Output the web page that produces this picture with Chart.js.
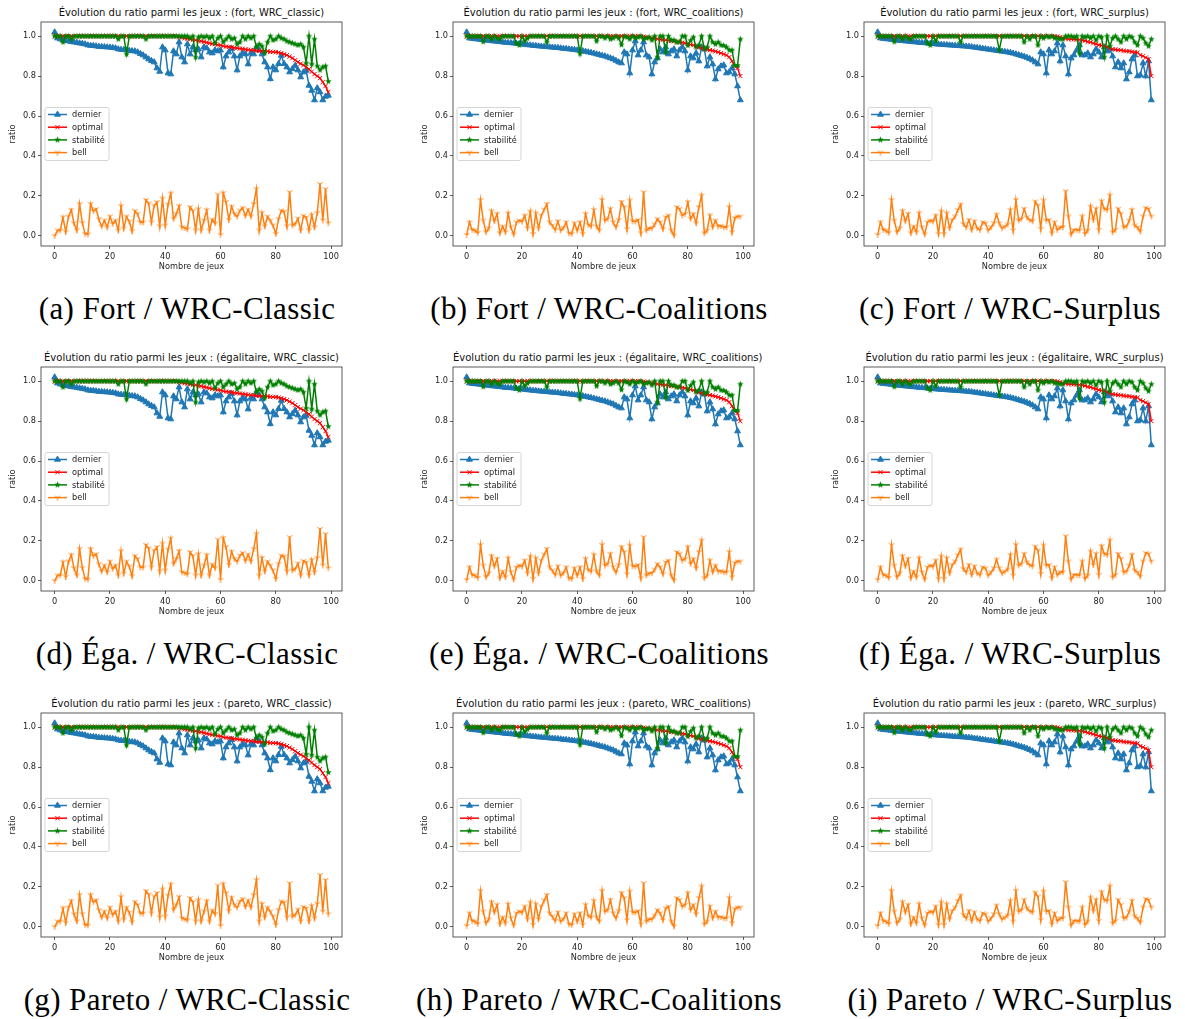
<!DOCTYPE html>
<html><head><meta charset="utf-8">
<script src="https://cdn.jsdelivr.net/npm/chart.js@4.4.1/dist/chart.umd.min.js"></script>
<style>
body{margin:0;background:#fff;width:1185px;height:1019px;position:relative;overflow:hidden}
.title{position:absolute;font-family:'DejaVu Sans';font-size:10px;line-height:12px;color:#111;text-align:center;white-space:nowrap}
.cap{position:absolute;width:420px;text-align:center;font-family:'Liberation Serif';font-size:31px;letter-spacing:0.4px;line-height:30px;color:#000;white-space:nowrap}
canvas{position:absolute}
</style></head><body>
<script>
// values (the three rows use the same runs)
const classicDernier = [1.02,0.99,0.985,0.98,0.978,0.975,0.972,0.97,0.968,0.965,
  0.963,0.96,0.955,0.953,0.952,0.95,0.948,0.947,0.946,0.945,
  0.944,0.942,0.94,0.935,0.933,0.932,0.93,0.928,0.926,0.925,
  0.92,0.912,0.905,0.895,0.885,0.877,0.87,0.84,0.823,0.945,
  0.93,0.815,0.81,0.925,0.91,0.97,0.895,0.87,0.96,0.91,
  0.945,0.93,0.935,0.895,0.945,0.94,0.92,0.915,0.93,0.925,
  0.93,0.845,0.9,0.92,0.937,0.9,0.83,0.9,0.915,0.91,
  0.86,0.915,0.91,0.945,0.93,0.91,0.87,0.845,0.786,0.845,
  0.83,0.862,0.903,0.862,0.845,0.82,0.836,0.853,0.83,0.795,
  0.82,0.828,0.753,0.728,0.68,0.74,0.72,0.68,0.698,0.703];
const classicOptimal = [1,1,1,1,1,1,1,1,1,1, 1,1,1,1,1,1,1,1,1,1,
  1,1,1,1,1,1,1,1,1,1, 1,1,1,1,1,1,1,1,1,1,
  1,1,1,1,1,0.995,0.993,0.99,0.988,0.985,
  0.982,0.98,0.977,0.975,0.972,0.968,0.965,0.962,0.96,0.957,
  0.955,0.95,0.948,0.946,0.944,0.942,0.94,0.938,0.936,0.934,
  0.932,0.931,0.93,0.928,0.927,0.926,0.925,0.924,0.922,0.921,
  0.92,0.918,0.915,0.91,0.905,0.898,0.89,0.88,0.87,0.862,
  0.855,0.845,0.835,0.822,0.81,0.8,0.79,0.77,0.75,0.72];
const classicStabilite = [1,1,1,0.97,1,1,0.985,1,1,1,
  1,1,1,1,1,1,1,1,1,1,
  1,1,1,0.985,1,1,0.91,1,1,1,
  1,1,1,0.985,1,1,1,1,1,1,
  1,1,1,1,1,1,1,1,1,0.99,
  1,0.895,0.995,1,0.995,1,0.99,1,0.965,0.99,
  1,0.97,0.985,1,0.985,0.99,0.96,0.97,1,0.985,
  1,0.99,1,0.945,0.96,0.95,0.915,0.97,1,0.98,
  0.985,1,0.99,0.985,0.975,0.97,0.965,0.96,0.955,0.96,
  0.945,0.865,1,0.86,0.985,0.85,0.83,0.845,0.85,0.773];
const classicBell = [0.0,0.027,0.027,0.093,0.02,0.097,0.13,0.063,0.027,0.16,
  0.065,0.01,0.007,0.16,0.124,0.134,0.083,0.047,0.077,0.042,
  0.097,0.06,0.077,0.027,0.149,0.037,0.097,0.072,0.023,0.125,
  0.11,0.068,0.067,0.18,0.163,0.068,0.152,0.169,0.048,0.187,
  0.052,0.157,0.212,0.085,0.11,0.149,0.043,0.04,0.033,0.144,
  0.125,0.027,0.134,0.027,0.077,0.129,0.027,0.082,0.063,0.207,
  0.005,0.214,0.169,0.08,0.147,0.11,0.097,0.127,0.14,0.1,
  0.132,0.097,0.16,0.235,0.027,0.115,0.047,0.097,0.077,0.052,
  0.01,0.085,0.127,0.122,0.047,0.219,0.052,0.06,0.087,0.027,
  0.1,0.093,0.027,0.105,0.043,0.115,0.26,0.077,0.235,0.063];

const coalDernier = [1.02,0.99,0.988,0.986,0.985,0.983,0.981,0.98,0.978,0.976,
  0.975,0.973,0.972,0.97,0.968,0.967,0.966,0.965,0.963,0.962,
  0.96,0.958,0.956,0.955,0.953,0.952,0.95,0.949,0.948,0.947,
  0.945,0.944,0.943,0.942,0.94,0.938,0.937,0.935,0.934,0.932,
  0.93,0.928,0.926,0.923,0.92,0.917,0.914,0.91,0.907,0.903,
  0.9,0.895,0.89,0.885,0.878,0.87,0.865,0.92,0.91,0.815,
  0.93,0.975,0.905,0.93,0.97,0.905,0.895,0.81,0.87,0.89,
  0.935,0.92,0.945,0.91,0.925,0.935,0.9,0.93,0.945,0.925,
  0.83,0.9,0.89,0.915,0.875,0.945,0.935,0.85,0.895,0.86,
  0.785,0.835,0.85,0.855,0.815,0.82,0.84,0.81,0.75,0.68];
const coalOptimal = [1,1,1,1,1,1,1,1,1,1, 1,1,1,1,1,1,1,1,1,1,
  1,1,1,1,1,1,1,1,1,1, 1,1,1,1,1,1,1,1,1,1,
  1,1,1,1,1,1,1,1,1,1, 1,1,1,1,1,1,1,1,1,1,
  1,1,1,0.999,0.998,0.995,0.992,0.99,0.988,0.986,
  0.984,0.982,0.98,0.978,0.976,0.974,0.972,0.97,0.968,0.965,
  0.962,0.958,0.955,0.95,0.945,0.94,0.937,0.934,0.93,0.927,
  0.924,0.92,0.915,0.91,0.905,0.895,0.875,0.85,0.84,0.8];
const coalStabilite = [1,1,1,1,1,1,0.972,1,1,0.985,
  1,0.99,0.985,1,1,1,1,1,0.965,0.955,
  1,0.975,0.99,1,1,1,1,1,1,0.97,
  1,1,1,1,1,1,1,1,1,1,
  1,0.912,1,1,1,1,1,0.975,1,1,
  0.99,1,0.985,0.99,1,0.99,0.957,1,0.995,0.985,
  1,0.99,0.995,1,0.985,0.99,0.995,0.98,1,0.895,
  1,1,0.92,1,0.98,0.98,0.97,0.97,1,1,
  0.953,0.978,0.995,0.945,0.955,1,0.937,0.945,1,0.97,
  0.96,0.97,0.955,0.953,0.945,0.93,0.93,0.853,0.853,0.985];
const coalBell = [0.005,0.068,0.03,0.027,0.015,0.18,0.077,0.018,0.038,0.124,
  0.073,0.11,0.013,0.047,0.018,0.113,0.043,0.007,0.068,0.077,
  0.072,0.102,0.038,0.122,0.01,0.113,0.038,0.102,0.132,0.16,
  0.068,0.052,0.03,0.073,0.027,0.04,0.068,0.013,0.01,0.063,
  0.027,0.068,0.01,0.11,0.055,0.047,0.13,0.047,0.027,0.18,
  0.077,0.085,0.135,0.068,0.043,0.08,0.17,0.144,0.033,0.177,
  0.073,0.072,0.08,0.013,0.219,0.027,0.038,0.038,0.057,0.085,
  0.068,0.033,0.093,0.102,0.027,0.002,0.144,0.135,0.102,0.11,
  0.169,0.085,0.11,0.063,0.144,0.202,0.013,0.027,0.102,0.043,
  0.077,0.047,0.05,0.043,0.043,0.144,0.018,0.09,0.097,0.097];

const surplusDernier = [1.02,0.99,0.988,0.986,0.985,0.983,0.981,0.98,0.978,0.977,
  0.975,0.974,0.972,0.971,0.97,0.968,0.967,0.966,0.965,0.963,
  0.962,0.96,0.959,0.958,0.957,0.956,0.955,0.954,0.953,0.952,
  0.951,0.95,0.949,0.948,0.946,0.944,0.942,0.94,0.938,0.936,
  0.934,0.932,0.93,0.928,0.926,0.924,0.922,0.92,0.917,0.914,
  0.91,0.906,0.902,0.898,0.893,0.887,0.88,0.87,0.86,0.92,
  0.91,0.815,0.93,0.91,0.925,0.965,0.875,0.955,0.9,0.81,
  0.89,0.905,0.93,0.955,0.905,0.905,0.915,0.895,0.91,0.935,
  0.92,0.895,0.945,0.925,0.935,0.9,0.845,0.87,0.84,0.865,
  0.785,0.82,0.885,0.905,0.8,0.805,0.865,0.8,0.875,0.68];
const surplusOptimal = [1,1,1,1,1,1,1,1,1,1, 1,1,1,1,1,1,1,1,1,1,
  1,1,1,1,1,1,1,1,1,1, 1,1,1,1,1,1,1,1,1,1,
  1,1,1,1,1,1,1,1,1,1, 1,1,1,1,1,1,1,1,1,1,
  1,1,1,1,1,0.998,0.995,0.99,0.988,0.986,
  0.985,0.984,0.983,0.982,0.98,0.977,0.972,0.97,0.965,0.962,
  0.955,0.953,0.95,0.946,0.942,0.935,0.933,0.931,0.929,0.927,
  0.925,0.924,0.922,0.92,0.918,0.905,0.9,0.893,0.885,0.8];
const surplusStabilite = [1,1,1,1,1,1,0.972,1,1,0.985,
  1,0.99,0.985,1,1,1,1,1,0.965,0.955,
  1,0.975,1,1,1,1,1,1,1,1,
  0.97,1,1,1,1,1,1,1,1,1,
  1,1,1,1,0.93,1,1,1,1,1,
  1,1,1,0.97,1,0.985,1,1,0.955,1,
  0.99,1,0.995,1,0.99,0.99,0.985,0.985,1,1,
  1,0.995,1,0.915,1,0.995,1,0.99,1,0.98,
  1,0.995,0.895,1,0.95,0.99,1,0.985,0.97,1,
  0.985,1,0.995,0.97,0.955,1,0.99,0.965,0.95,0.985];
const surplusBell = [0.005,0.068,0.03,0.027,0.015,0.18,0.077,0.018,0.038,0.124,
  0.073,0.11,0.013,0.047,0.018,0.113,0.043,0.007,0.068,0.077,
  0.072,0.102,0.01,0.122,0.01,0.113,0.038,0.08,0.097,0.13,
  0.157,0.06,0.043,0.08,0.03,0.073,0.038,0.03,0.068,0.063,
  0.027,0.043,0.063,0.107,0.063,0.038,0.047,0.057,0.13,0.027,
  0.18,0.077,0.085,0.135,0.093,0.08,0.073,0.172,0.152,0.035,
  0.177,0.077,0.08,0.013,0.068,0.03,0.043,0.043,0.224,0.097,
  0.007,0.03,0.03,0.027,0.097,0.01,0.027,0.147,0.08,0.135,
  0.03,0.174,0.135,0.13,0.202,0.018,0.03,0.135,0.11,0.043,
  0.047,0.077,0.13,0.052,0.043,0.022,0.097,0.14,0.135,0.097];

const rowKeys = ["fort", "égalitaire", "pareto"];
const rowCaps = ["Fort", "Éga.", "Pareto"];
const colKeys = ["WRC_classic", "WRC_coalitions", "WRC_surplus"];
const colCaps = ["WRC-Classic", "WRC-Coalitions", "WRC-Surplus"];
const letters = ["a","b","c","d","e","f","g","h","i"];
const seriesNames = ["dernier", "optimal", "stabilité", "bell"];
const xTicks = [0, 20, 40, 60, 80, 100];
const yTicks = [0, 0.2, 0.4, 0.6, 0.8, 1.0];
const columns = [
  [classicDernier, classicOptimal, classicStabilite, classicBell],
  [coalDernier, coalOptimal, coalStabilite, coalBell],
  [surplusDernier, surplusOptimal, surplusStabilite, surplusBell]
];

const colX = [0, 412, 823];
const rowY = [0, 345, 691];
const colors = ["#1f77b4", "#ff0000", "#008000", "#ff7f0e"];
const tickFont = {family: "DejaVu Sans", size: 8.2};

// matplotlib-like markers that Chart.js lacks
function starImage(color, r){
  const c = document.createElement("canvas");
  const s = Math.ceil(2*r + 2);
  c.width = c.height = s;
  const g = c.getContext("2d");
  g.fillStyle = color;
  g.beginPath();
  for(let k=0;k<10;k++){
    const rr = k%2 ? r*0.42 : r;
    const a = -Math.PI/2 + k*Math.PI/5;
    const px = s/2 + rr*Math.cos(a), py = s/2 + rr*Math.sin(a);
    if(k) g.lineTo(px,py); else g.moveTo(px,py);
  }
  g.closePath(); g.fill();
  return c;
}
function triDownImage(color, r){
  const c = document.createElement("canvas");
  const s = Math.ceil(2*r + 2);
  c.width = c.height = s;
  const g = c.getContext("2d");
  g.strokeStyle = color; g.lineWidth = 1;
  const m = s/2;
  g.beginPath();
  g.moveTo(m,m); g.lineTo(m, m+r);
  g.moveTo(m,m); g.lineTo(m-0.866*r, m-0.5*r);
  g.moveTo(m,m); g.lineTo(m+0.866*r, m-0.5*r);
  g.stroke();
  return c;
}
const markers = [
  {pointStyle: "triangle", pointRadius: 3.4},
  {pointStyle: "crossRot", pointRadius: 3},
  {pointStyle: starImage(colors[2], 3.4), pointRadius: 3},
  {pointStyle: triDownImage(colors[3], 3), pointRadius: 3}
];

const framePlugin = {
  id: "frameLegend",
  afterDraw(chart){
    const {ctx, chartArea: a} = chart;
    ctx.save();
    ctx.strokeStyle = "#333"; ctx.lineWidth = 0.8;
    ctx.strokeRect(a.left, a.top, a.right - a.left, a.bottom - a.top);
    // legend, center left like matplotlib "best"
    const bw = 64, bh = 53, bx = a.left + 4, by = (a.top + a.bottom)/2 - bh/2;
    ctx.fillStyle = "rgba(255,255,255,0.8)";
    ctx.strokeStyle = "#cccccc";
    ctx.beginPath();
    if(ctx.roundRect) ctx.roundRect(bx, by, bw, bh, 2); else ctx.rect(bx, by, bw, bh);
    ctx.fill(); ctx.stroke();
    chart.data.datasets.forEach((ds, k) => {
      const y = by + 7 + k*12.7;
      ctx.strokeStyle = ds.borderColor; ctx.lineWidth = ds.borderWidth;
      ctx.beginPath(); ctx.moveTo(bx + 3, y); ctx.lineTo(bx + 22, y); ctx.stroke();
      ctx.fillStyle = ds.pointBackgroundColor; ctx.strokeStyle = ds.pointBorderColor; ctx.lineWidth = 1;
      Chart.helpers.drawPoint(ctx, {pointStyle: ds.pointStyle, radius: ds.pointRadius, rotation: 0, borderWidth: 1}, bx + 12.5, y);
      ctx.fillStyle = "#222";
      ctx.font = "8.2px 'DejaVu Sans'";
      ctx.textBaseline = "middle";
      ctx.fillText(ds.label, bx + 27, y + 0.5);
    });
    ctx.restore();
  }
};

function makePanel(r, c){
  const ox = colX[c], oy = rowY[r];
  const t = document.createElement("div");
  t.className = "title";
  t.style.left = (ox + 41) + "px"; t.style.width = "301px"; t.style.top = (oy + 7) + "px";
  t.textContent = "Évolution du ratio parmi les jeux : (" + rowKeys[r] + ", " + colKeys[c] + ")";
  document.body.appendChild(t);

  const cv = document.createElement("canvas");
  cv.width = 350; cv.height = 280;
  cv.style.left = ox + "px"; cv.style.top = oy + "px";
  document.body.appendChild(cv);

  const cap = document.createElement("div");
  cap.className = "cap";
  cap.style.left = (ox + 187 - 210) + "px"; cap.style.top = (oy + 294) + "px";
  cap.textContent = "(" + letters[r*3 + c] + ") " + rowCaps[r] + " / " + colCaps[c];
  document.body.appendChild(cap);

  const datasets = columns[c].map((vals, k) => ({
    label: seriesNames[k],
    data: vals.map((v, i) => ({x: i, y: v})),
    borderColor: colors[k],
    backgroundColor: colors[k],
    pointBackgroundColor: colors[k],
    pointBorderColor: colors[k],
    pointBorderWidth: 1,
    borderWidth: 1.5,
    pointStyle: markers[k].pointStyle,
    pointRadius: markers[k].pointRadius,
    tension: 0,
    order: 4 - k
  }));

  new Chart(cv, {
    type: "line",
    data: {datasets},
    plugins: [framePlugin],
    options: {
      responsive: false, animation: false, devicePixelRatio: 1,
      layout: {padding: {top: 22, right: 8, left: 0, bottom: 0}},
      plugins: {legend: {display: false}, tooltip: {enabled: false}},
      scales: {
        x: {
          type: "linear", min: -4.95, max: 103.95,
          afterBuildTicks: s => { s.ticks = xTicks.map(v => ({value: v})); },
          afterFit: s => { s.height = 34; },
          border: {display: false},
          grid: {drawOnChartArea: false, drawTicks: true, tickLength: 3, color: "#333", lineWidth: 0.8},
          ticks: {font: tickFont, color: "#222", padding: 3, maxRotation: 0, callback: v => String(v)},
          title: {display: true, text: "Nombre de jeux", font: tickFont, color: "#222", padding: {top: 0, bottom: 8}}
        },
        y: {
          type: "linear", min: -0.051, max: 1.071,
          afterBuildTicks: s => { s.ticks = yTicks.map(v => ({value: v})); },
          afterFit: s => { s.width = 41; },
          border: {display: false},
          grid: {drawOnChartArea: false, drawTicks: true, tickLength: 3, color: "#333", lineWidth: 0.8},
          ticks: {font: tickFont, color: "#222", padding: 2, callback: v => v.toFixed(1)},
          title: {display: true, text: "ratio", font: tickFont, color: "#222", padding: {top: 8, bottom: 0}}
        }
      }
    }
  });
}

for(let r=0;r<3;r++) for(let c=0;c<3;c++) makePanel(r, c);
</script>
</body></html>
